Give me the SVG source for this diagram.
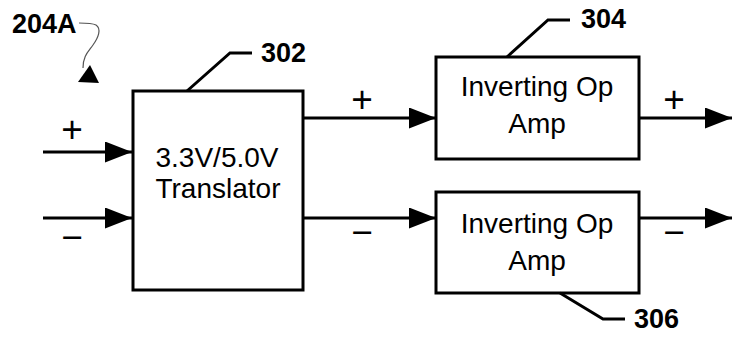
<svg xmlns="http://www.w3.org/2000/svg" width="732" height="337" viewBox="0 0 732 337">
<defs>
<style>
.box{fill:#fff;stroke:#000;stroke-width:3}
.ln{fill:none;stroke:#000;stroke-width:3}
.ld{fill:none;stroke:#000;stroke-width:3}
.t{font-family:"Liberation Sans",Arial,sans-serif;font-size:28px;fill:#000;text-anchor:middle}
.ref{font-family:"Liberation Sans",Arial,sans-serif;font-size:27px;font-weight:bold;fill:#000}
.sg{font-family:"Liberation Sans",Arial,sans-serif;font-size:37px;fill:#000;text-anchor:middle}
</style>
<marker id="ah" markerWidth="9" markerHeight="7" refX="9" refY="3.5" orient="auto" markerUnits="strokeWidth">
<path d="M0,0 L9,3.5 L0,7 Z" fill="#000"/>
</marker>
</defs>
<rect width="732" height="337" fill="#fff"/>
<g id="connectors">
<line class="ln" x1="43" y1="152" x2="132" y2="152" marker-end="url(#ah)"/>
<line class="ln" x1="43" y1="218" x2="132" y2="218" marker-end="url(#ah)"/>
<line class="ln" x1="303" y1="118" x2="436" y2="118" marker-end="url(#ah)"/>
<line class="ln" x1="303" y1="218" x2="436" y2="218" marker-end="url(#ah)"/>
<line class="ln" x1="639" y1="118" x2="732" y2="118" marker-end="url(#ah)"/>
<line class="ln" x1="639" y1="218" x2="732" y2="218" marker-end="url(#ah)"/>
<text class="sg" x="72" y="142">+</text>
<text class="sg" x="72" y="249.5">−</text>
<text class="sg" x="362" y="112">+</text>
<text class="sg" x="362" y="244.5">−</text>
<text class="sg" x="674" y="112">+</text>
<text class="sg" x="674" y="244.5">−</text>
</g>
<g id="label-204A">
<text class="ref" x="12" y="33">204A</text>
<path d="M79,23 C86,23 92,23 96,25 C102,29 98,38 93,45 C88,52 83,56 83,68" fill="none" stroke="#555" stroke-width="1.2"/>
<polygon points="78,82 90,65 99,83" fill="#000"/>
</g>
<g id="node-302">
<rect class="box" x="133" y="91" width="170" height="199"/>
<text class="t" x="217" y="167">3.3V/5.0V</text>
<text class="t" x="218" y="198">Translator</text>
<polyline class="ld" points="187,91 230,53 252,53"/>
<text class="ref" x="261" y="62">302</text>
</g>
<g id="node-304">
<rect class="box" x="436" y="57" width="203" height="102"/>
<text class="t" x="537" y="96">Inverting Op</text>
<text class="t" x="537" y="133">Amp</text>
<polyline class="ld" points="507,57 548,20 570,20"/>
<text class="ref" x="581" y="28">304</text>
</g>
<g id="node-306">
<rect class="box" x="436" y="192" width="203" height="101"/>
<text class="t" x="537" y="233">Inverting Op</text>
<text class="t" x="537" y="270">Amp</text>
<polyline class="ld" points="560,293 603,319 625,319"/>
<text class="ref" x="634" y="328">306</text>
</g>
</svg>
